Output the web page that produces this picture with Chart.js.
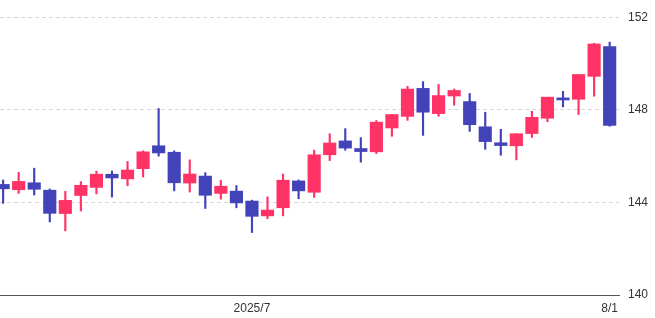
<!DOCTYPE html>
<html>
<head>
<meta charset="utf-8">
<script src="https://cdn.jsdelivr.net/npm/chart.js@4"></script>
<style>
  html, body { margin: 0; padding: 0; background: #ffffff; }
  #wrap { width: 655px; height: 318px; }
</style>
</head>
<body>
<div id="wrap"><canvas id="c" width="655" height="318"></canvas></div>
<script>
const categories = ['6/9','6/10','6/11','6/12','6/13','6/16','6/17','6/18','6/19','6/20',
  '6/23','6/24','6/25','6/26','6/27','6/30','7/1','7/2','7/3','7/4',
  '7/7','7/8','7/9','7/10','7/11','7/14','7/15','7/16','7/17','7/18',
  '7/21','7/22','7/23','7/24','7/25','7/28','7/29','7/30','7/31','8/1'];
const openVals  = [144.78,144.55,144.85,144.53,143.52,144.30,144.65,145.22,145.02,145.46,
  146.45,146.17,144.84,145.14,144.39,144.49,144.06,143.42,143.77,144.93,
  144.44,146.06,146.66,146.33,146.19,147.22,147.72,148.93,147.84,148.60,
  148.36,147.27,146.58,146.45,146.98,147.64,148.52,148.46,149.45,150.74];
const highVals  = [144.97,145.30,145.48,144.58,144.48,144.90,145.35,145.36,145.77,146.23,
  148.06,146.23,145.84,145.29,144.96,144.73,144.10,144.24,145.23,144.97,
  146.26,146.97,147.19,146.80,147.54,147.80,149.02,149.22,149.10,148.90,
  148.71,147.90,147.16,146.97,147.94,148.55,148.80,149.53,150.88,150.93];
const lowVals   = [143.96,144.39,144.32,143.16,142.77,143.63,144.37,144.23,144.72,145.10,
  146.00,144.50,144.45,143.74,144.14,143.77,142.70,143.30,143.42,144.16,
  144.22,145.81,146.26,145.74,146.11,146.86,147.55,146.90,147.72,148.20,
  147.07,146.30,146.04,145.84,146.81,147.49,148.13,147.80,148.59,147.29];
const closeVals = [144.59,144.91,144.57,143.53,144.09,144.74,145.22,145.06,145.40,146.19,
  146.14,144.85,145.23,144.31,144.70,143.98,143.40,143.67,144.96,144.50,
  146.06,146.57,146.35,146.20,147.47,147.80,148.90,147.90,148.62,148.84,
  147.36,146.63,146.46,146.97,147.68,148.55,148.43,149.53,150.85,147.33];
const yTicks = [140, 144, 148, 152];
const xTickDates = ['7/1', '8/1'];
const xTickTexts = ['2025/7', '8/1'];

const UP = '#ff3366';
const DOWN = '#4343b9';

const bodies = categories.map((d, i) => ({ x: i, y: [openVals[i], closeVals[i]] }));
const wicks = categories.map((d, i) => ({ x: i, y: [lowVals[i], highVals[i]] }));
const colors = categories.map((d, i) => closeVals[i] >= openVals[i] ? UP : DOWN);

new Chart(document.getElementById('c'), {
  type: 'bar',
  data: {
    datasets: [
      { data: bodies, backgroundColor: colors, borderWidth: 0, barThickness: 12.5, grouped: false, order: 0 },
      { data: wicks, backgroundColor: colors, borderWidth: 0, barThickness: 1.5, grouped: false, order: 1 }
    ]
  },
  options: {
    responsive: false,
    animation: false,
    layout: { padding: 0 },
    plugins: { legend: { display: false }, tooltip: { enabled: false } },
    scales: {
      x: {
        type: 'linear',
        offset: false,
        min: -0.2,
        max: 39.6,
        afterFit: (s) => { s.height = 23; s.paddingLeft = 0; s.paddingRight = 0; },
        afterBuildTicks: (s) => {
          s.ticks = xTickDates.map(d => ({ value: categories.indexOf(d) }));
        },
        ticks: {
          autoSkip: false,
          maxRotation: 0,
          padding: 6,
          color: '#333333',
          font: { family: 'Liberation Sans, Arial, sans-serif', size: 12 },
          callback: (v) => xTickTexts[xTickDates.indexOf(categories[v])]
        },
        grid: { display: true, offset: false, drawOnChartArea: false, drawTicks: false },
        border: { display: true, color: '#555555', width: 1 }
      },
      y: {
        position: 'right',
        min: 140,
        max: 152.75,
        afterFit: (s) => { s.width = 36; s.paddingTop = 0; s.paddingBottom = 0; },
        afterBuildTicks: (s) => { s.ticks = yTicks.map(v => ({ value: v })); },
        ticks: {
          padding: 9,
          color: '#333333',
          font: { family: 'Liberation Sans, Arial, sans-serif', size: 12 }
        },
        grid: { color: '#d8d8d8', drawTicks: false, lineWidth: 1 },
        border: { display: false, dash: [4, 3] }
      }
    }
  }
});
</script>
</body>
</html>
